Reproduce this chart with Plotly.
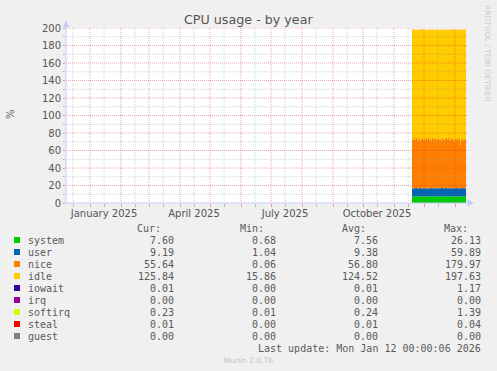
import plotly.graph_objects as go
import pandas as pd

# ---------------- data ----------------
days = pd.date_range("2025-11-19", periods=55, freq="D")

system = [7.4, 7.8, 7.5, 7.9, 7.3, 7.6, 8.1, 7.5, 7.2, 7.7,
          7.9, 7.4, 7.6, 7.8, 7.3, 7.5, 8.0, 7.6, 7.4, 7.7,
          7.5, 7.9, 7.3, 7.6, 7.8, 7.2, 7.5, 7.7, 8.2, 7.6,
          7.4, 7.5, 7.9, 7.6, 7.3, 7.7, 7.5, 7.8, 7.4, 7.6,
          7.9, 7.5, 7.3, 7.7, 7.6, 8.0, 7.4, 7.5, 7.8, 7.6,
          7.3, 7.7, 7.5, 7.8, 7.60]
user = [9.3, 8.9, 9.6, 9.1, 9.8, 9.0, 8.7, 9.4, 9.9, 9.2,
        8.8, 9.5, 9.1, 9.7, 9.3, 9.0, 8.6, 9.4, 9.8, 9.2,
        9.5, 8.9, 9.6, 9.3, 9.0, 10.1, 9.4, 9.2, 8.8, 9.5,
        9.7, 9.3, 9.0, 9.4, 9.8, 9.1, 9.5, 9.2, 9.6, 9.3,
        8.9, 9.4, 9.7, 9.2, 9.5, 9.0, 9.6, 9.3, 9.1, 9.4,
        9.8, 9.2, 9.5, 9.1, 9.19]
nice = [56.5, 55.8, 58.2, 54.9, 57.1, 56.3, 55.0, 57.8, 53.6, 56.9,
        57.4, 55.2, 56.8, 54.1, 57.6, 56.0, 58.4, 55.5, 56.7, 53.9,
        57.2, 56.4, 55.1, 57.9, 56.2, 54.8, 57.0, 55.9, 56.6, 54.3,
        57.5, 56.1, 55.4, 58.0, 56.8, 55.2, 57.3, 54.6, 56.9, 55.7,
        57.1, 56.0, 53.2, 56.5, 55.8, 57.4, 54.7, 56.3, 49.8, 55.6,
        57.0, 54.9, 56.2, 55.3, 55.64]
idle = [124.7, 125.4, 122.6, 126.0, 123.7, 125.0, 126.1, 123.2, 127.2, 124.1,
        123.8, 125.8, 124.4, 126.3, 123.7, 125.4, 122.9, 125.4, 124.0, 127.1,
        123.7, 124.7, 125.9, 123.1, 124.9, 125.8, 124.0, 125.1, 124.3, 126.5,
        123.3, 125.0, 125.6, 122.9, 124.0, 125.9, 123.6, 126.3, 124.0, 125.3,
        124.0, 125.0, 127.7, 124.5, 125.0, 123.5, 126.2, 124.8, 131.2, 125.3,
        123.8, 126.1, 124.7, 125.7, 125.84]
iowait = [0.01, 0.01, 0.02, 0.01, 0.01, 0.01, 0.00, 0.01, 0.01, 0.02,
          0.01, 0.01, 0.01, 0.00, 0.01, 0.01, 0.02, 0.01, 0.01, 0.01,
          0.01, 0.00, 0.01, 0.01, 0.01, 0.02, 0.01, 0.01, 0.01, 0.01,
          0.00, 0.01, 0.01, 0.02, 0.01, 0.01, 0.01, 0.01, 0.00, 0.01,
          0.01, 0.01, 0.02, 0.01, 0.01, 0.01, 0.00, 0.01, 0.01, 0.01,
          0.02, 0.01, 0.01, 0.01, 0.01]
irq = [0.00, 0.00, 0.00, 0.00, 0.00, 0.00, 0.00, 0.00, 0.00, 0.00,
       0.00, 0.00, 0.00, 0.00, 0.00, 0.00, 0.00, 0.00, 0.00, 0.00,
       0.00, 0.00, 0.00, 0.00, 0.00, 0.00, 0.00, 0.00, 0.00, 0.00,
       0.00, 0.00, 0.00, 0.00, 0.00, 0.00, 0.00, 0.00, 0.00, 0.00,
       0.00, 0.00, 0.00, 0.00, 0.00, 0.00, 0.00, 0.00, 0.00, 0.00,
       0.00, 0.00, 0.00, 0.00, 0.00]
softirq = [0.24, 0.23, 0.25, 0.24, 0.22, 0.24, 0.25, 0.23, 0.24, 0.26,
           0.23, 0.24, 0.25, 0.23, 0.24, 0.22, 0.25, 0.24, 0.23, 0.24,
           0.25, 0.24, 0.23, 0.26, 0.24, 0.23, 0.24, 0.25, 0.22, 0.24,
           0.23, 0.25, 0.24, 0.24, 0.23, 0.25, 0.24, 0.22, 0.24, 0.25,
           0.23, 0.24, 0.26, 0.24, 0.23, 0.24, 0.25, 0.23, 0.24, 0.24,
           0.25, 0.23, 0.24, 0.24, 0.23]
steal = [0.01, 0.01, 0.01, 0.00, 0.01, 0.01, 0.01, 0.01, 0.02, 0.01,
         0.01, 0.00, 0.01, 0.01, 0.01, 0.01, 0.01, 0.02, 0.01, 0.01,
         0.01, 0.01, 0.00, 0.01, 0.01, 0.01, 0.01, 0.01, 0.01, 0.02,
         0.01, 0.01, 0.01, 0.00, 0.01, 0.01, 0.01, 0.01, 0.01, 0.01,
         0.02, 0.01, 0.01, 0.01, 0.00, 0.01, 0.01, 0.01, 0.01, 0.01,
         0.01, 0.01, 0.02, 0.01, 0.01]
guest = [0.00, 0.00, 0.00, 0.00, 0.00, 0.00, 0.00, 0.00, 0.00, 0.00,
         0.00, 0.00, 0.00, 0.00, 0.00, 0.00, 0.00, 0.00, 0.00, 0.00,
         0.00, 0.00, 0.00, 0.00, 0.00, 0.00, 0.00, 0.00, 0.00, 0.00,
         0.00, 0.00, 0.00, 0.00, 0.00, 0.00, 0.00, 0.00, 0.00, 0.00,
         0.00, 0.00, 0.00, 0.00, 0.00, 0.00, 0.00, 0.00, 0.00, 0.00,
         0.00, 0.00, 0.00, 0.00, 0.00]

series_names = ["system", "user", "nice", "idle", "iowait", "irq", "softirq", "steal", "guest"]
series_values = [system, user, nice, idle, iowait, irq, softirq, steal, guest]
series_colors = ["#00cc00", "#0066b3", "#ff8000", "#ffcc00", "#330099",
                 "#990099", "#ccff00", "#ff0000", "#808080"]

cur_vals = ["7.60", "9.19", "55.64", "125.84", "0.01", "0.00", "0.23", "0.01", "0.00"]
min_vals = ["0.68", "1.04", "0.06", "15.86", "0.00", "0.00", "0.01", "0.00", "0.00"]
avg_vals = ["7.56", "9.38", "56.80", "124.52", "0.01", "0.00", "0.24", "0.01", "0.00"]
max_vals = ["26.13", "59.89", "179.97", "197.63", "1.17", "0.00", "1.39", "0.04", "0.00"]
col_headers = ["Cur:", "Min:", "Avg:", "Max:"]

y_major = [0, 20, 40, 60, 80, 100, 120, 140, 160, 180, 200]
y_minor = [10, 30, 50, 70, 90, 110, 130, 150, 170, 190]
month_starts = pd.date_range("2025-01-01", "2026-01-01", freq="MS")
mid_months = pd.DatetimeIndex([pd.Timestamp(y, m, 15) for y, m in
                               [(2024, 12)] + [(2025, k) for k in range(1, 13)]])
labelled = {pd.Timestamp(2025, 1, 15): "January 2025", pd.Timestamp(2025, 4, 15): "April 2025",
            pd.Timestamp(2025, 7, 15): "July 2025", pd.Timestamp(2025, 10, 15): "October 2025"}
x_range = ["2024-12-08 00:00:06", "2026-01-12 00:00:06"]

title_text = "CPU usage - by year"
y_title = "%"
last_update = "Last update: Mon Jan 12 00:00:06 2026"
footer = "Munin 2.0.76"
side_text = "RRDTOOL / TOBI OETIKER"

# ---------------- layout helpers (pixel -> paper) ----------------
W, H = 497, 371
L, R, T, B = 66, 31, 28, 168
PW, PH = W - L - R, H - T - B


def px(x):
    return (x - L) / PW


def py(y):
    return (H - B - y) / PH


fig = go.Figure()
for name, vals, col in zip(series_names, series_values, series_colors):
    fig.add_trace(go.Scatter(x=days, y=vals, name=name, mode="lines",
                             stackgroup="one", line=dict(width=0, shape="hv", color=col),
                             fillcolor=col, hoverinfo="skip"))

shapes = []
MAJ = "rgba(220,40,40,0.42)"
MIN = "rgba(140,140,140,0.38)"
DOT = "1px,1px"
for v in y_minor:
    shapes.append(dict(type="line", xref="paper", yref="y", x0=0, x1=px(468), y0=v, y1=v,
                       line=dict(color=MIN, width=1, dash=DOT), layer="above"))
for v in y_major[1:]:
    shapes.append(dict(type="line", xref="paper", yref="y", x0=0, x1=px(468), y0=v, y1=v,
                       line=dict(color=MAJ, width=1, dash=DOT), layer="above"))
for d in mid_months:
    shapes.append(dict(type="line", xref="x", yref="y", x0=d, x1=d, y0=0, y1=200,
                       line=dict(color=MIN, width=1, dash=DOT), layer="above"))
for d in month_starts:
    shapes.append(dict(type="line", xref="x", yref="y", x0=d, x1=d, y0=0, y1=200,
                       line=dict(color=MAJ, width=1, dash=DOT), layer="above"))

AX = "#c6cbf4"
# axis lines + arrows
shapes.append(dict(type="line", xref="paper", yref="paper", x0=0, x1=px(470), y0=0, y1=0,
                   line=dict(color=AX, width=1), layer="above"))
shapes.append(dict(type="line", xref="paper", yref="paper", x0=0, x1=0, y0=0, y1=py(24),
                   line=dict(color=AX, width=1), layer="above"))
shapes.append(dict(type="path", xref="paper", yref="paper",
                   path=f"M {px(66)} {py(20)} L {px(63)} {py(27)} L {px(69)} {py(27)} Z",
                   fillcolor=AX, line=dict(width=0), layer="above"))
shapes.append(dict(type="path", xref="paper", yref="paper",
                   path=f"M {px(474)} {py(203)} L {px(467.5)} {py(199.5)} L {px(467.5)} {py(206.5)} Z",
                   fillcolor=AX, line=dict(width=0), layer="above"))

annotations = []
MONO = "DejaVu Sans Mono"
TXT = "#5a5a5a"
row_y = [240, 252, 264, 276, 288, 300, 312, 324, 336]
col_right = [176, 278, 380, 483]
head_right = [163, 266, 368, 470]
for h, xr in zip(col_headers, head_right):
    annotations.append(dict(text=h, x=px(xr), y=py(228), xref="paper", yref="paper",
                            xanchor="right", yanchor="middle", showarrow=False,
                            font=dict(family=MONO, size=10, color=TXT)))
for i, name in enumerate(series_names):
    yy = row_y[i]
    shapes.append(dict(type="rect", xref="paper", yref="paper", x0=px(14), x1=px(20),
                       y0=py(yy - 3), y1=py(yy + 3), fillcolor=series_colors[i],
                       line=dict(width=0)))
    annotations.append(dict(text=name, x=px(26), y=py(yy), xref="paper", yref="paper",
                            xanchor="left", yanchor="middle", showarrow=False,
                            font=dict(family=MONO, size=10, color=TXT)))
    for vals, xr in zip([cur_vals, min_vals, avg_vals, max_vals], col_right):
        annotations.append(dict(text=vals[i], x=px(xr), y=py(yy), xref="paper", yref="paper",
                                xanchor="right", yanchor="middle", showarrow=False,
                                font=dict(family=MONO, size=10, color=TXT)))
annotations.append(dict(text=last_update, x=px(483), y=py(348), xref="paper", yref="paper",
                        xanchor="right", yanchor="middle", showarrow=False,
                        font=dict(family=MONO, size=10, color=TXT)))
annotations.append(dict(text=footer, x=px(248), y=py(360), xref="paper", yref="paper",
                        xanchor="center", yanchor="middle", showarrow=False,
                        font=dict(family="DejaVu Sans", size=7.5, color="#c4c4c4")))
annotations.append(dict(text=title_text, x=px(248.5), y=py(19.5), xref="paper", yref="paper",
                        xanchor="center", yanchor="middle", showarrow=False,
                        font=dict(family="DejaVu Sans", size=12.7, color="#555555")))
annotations.append(dict(text=y_title, x=px(10), y=py(114), xref="paper", yref="paper",
                        xanchor="center", yanchor="middle", showarrow=False, textangle=-90,
                        font=dict(family="DejaVu Sans", size=10, color="#555555")))
annotations.append(dict(text=side_text, x=px(488), y=py(53), xref="paper", yref="paper",
                        xanchor="center", yanchor="middle", showarrow=False, textangle=90,
                        font=dict(family="DejaVu Sans", size=7.5, color="#cccccc")))

fig.update_layout(
    width=W, height=H, margin=dict(l=L, r=R, t=T, b=B, pad=0),
    paper_bgcolor="#f0f0f0", plot_bgcolor="#ffffff", showlegend=False,
    shapes=shapes, annotations=annotations,
    xaxis=dict(type="date", range=x_range, showgrid=False, zeroline=False, showline=False,
               tickmode="array", tickvals=list(mid_months),
               ticktext=[labelled.get(d, "") for d in mid_months],
               ticks="outside", ticklen=3, tickcolor="#bbbbbb", ticklabelstandoff=-2,
               tickfont=dict(family="DejaVu Sans", size=10, color="#555555"),
               minor=dict(tickmode="array", tickvals=list(month_starts), ticks="outside",
                          ticklen=3, tickcolor="#e89a9a", showgrid=False),
               fixedrange=True),
    yaxis=dict(range=[0, 200], showgrid=False, zeroline=False, showline=False,
               tickmode="array", tickvals=y_major, ticks="outside", ticklen=2,
               tickcolor="#e89a9a",
               tickfont=dict(family="DejaVu Sans", size=10, color="#555555"),
               minor=dict(tickmode="array", tickvals=y_minor, ticks="outside", ticklen=2,
                          tickcolor="#bbbbbb", showgrid=False),
               fixedrange=True),
)

fig.write_html("out.html", config={"displayModeBar": False},
               post_script="document.body.style.margin='0';document.body.style.overflow='hidden';")
